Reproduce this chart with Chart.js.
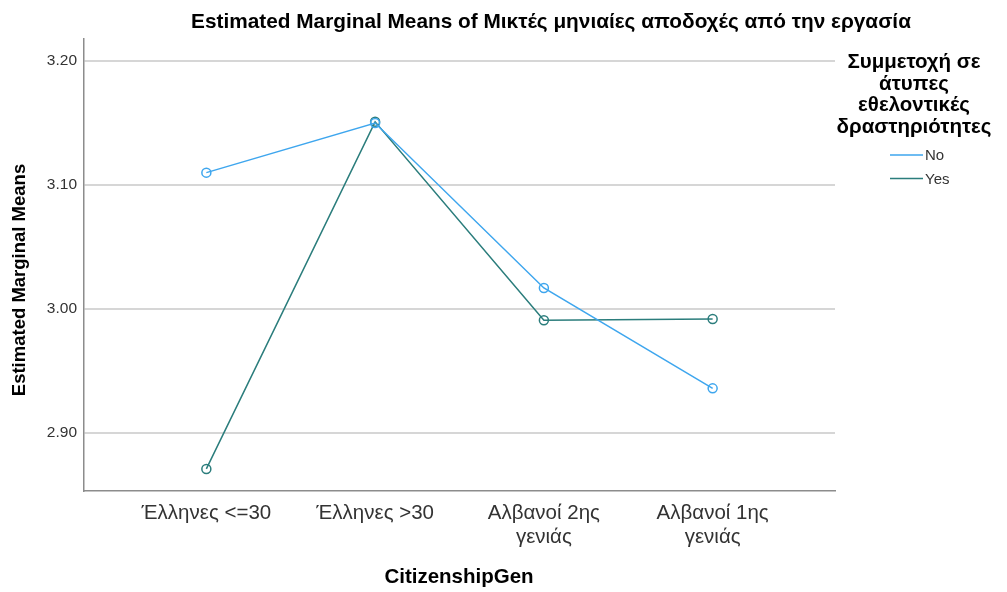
<!DOCTYPE html>
<html>
<head>
<meta charset="utf-8">
<script src="https://cdn.jsdelivr.net/npm/chart.js@4/dist/chart.umd.min.js"></script>
<style>
  html, body { margin: 0; padding: 0; background: #fff; }
  #wrap { width: 1007px; height: 592px; position: relative; }
</style>
</head>
<body>
<div id="wrap"><canvas id="emmChart"></canvas></div>
<script>
// categories (x axis)
const categories = [
  ['Έλληνες <=30'],
  ['Έλληνες >30'],
  ['Αλβανοί 2ης', 'γενιάς'],
  ['Αλβανοί 1ης', 'γενιάς']
];
// estimated marginal means per group
const valuesNo = [3.110, 3.150, 3.017, 2.936];
const valuesYes = [2.871, 3.151, 2.991, 2.992];
const yTicks = [2.90, 3.00, 3.10, 3.20];

const chartTitle = 'Estimated Marginal Means of Μικτές μηνιαίες αποδοχές από την εργασία';
const yTitle = 'Estimated Marginal Means';
const xTitle = 'CitizenshipGen';
const legendTitle = ['Συμμετοχή σε', 'άτυπες', 'εθελοντικές', 'δραστηριότητες'];
const seriesNames = ['No', 'Yes'];

const colNo = '#3ea6ee';
const colYes = '#2b7d7c';
const fontFam = '"Liberation Sans", Arial, sans-serif';

function toPoints(arr) {
  return arr.map((v, i) => ({ x: i, y: v }));
}

// titles + legend drawn by hand
const extras = {
  id: 'extras',
  afterDraw(chart) {
    const c = chart.ctx;
    c.save();
    c.fillStyle = '#000';
    c.textAlign = 'center';
    c.textBaseline = 'middle';

    c.font = 'bold 20.8px ' + fontFam;
    c.fillText(chartTitle, 551, 22);

    c.font = 'bold 20.5px ' + fontFam;
    c.fillText(xTitle, 459, 577);

    c.save();
    c.translate(20, 280);
    c.rotate(-Math.PI / 2);
    c.font = 'bold 18.5px ' + fontFam;
    c.fillText(yTitle, 0, 0);
    c.restore();

    // legend title
    c.font = 'bold 20.5px ' + fontFam;
    c.textBaseline = 'alphabetic';
    legendTitle.forEach((line, i) => {
      c.fillText(line, 914, 68 + i * 21.7);
    });

    // legend items
    c.font = '15px ' + fontFam;
    c.textAlign = 'left';
    c.textBaseline = 'middle';
    chart.data.datasets.forEach((ds, i) => {
      const y = 155 + i * 23.5;
      c.strokeStyle = ds.borderColor;
      c.lineWidth = 1.5;
      c.beginPath();
      c.moveTo(890, y);
      c.lineTo(923, y);
      c.stroke();
      c.fillStyle = '#333';
      c.fillText(ds.label, 925, y + 1);
    });
    c.restore();
  }
};

new Chart(document.getElementById('emmChart'), {
  type: 'line',
  data: {
    datasets: [
      {
        label: seriesNames[0],
        data: toPoints(valuesNo),
        borderColor: colNo,
        backgroundColor: '#fff',
        pointBorderColor: colNo,
        pointBackgroundColor: 'rgba(255,255,255,0)',
        pointRadius: 4.5,
        pointBorderWidth: 1.5,
        borderWidth: 1.5,
        tension: 0
      },
      {
        label: seriesNames[1],
        data: toPoints(valuesYes),
        borderColor: colYes,
        backgroundColor: '#fff',
        pointBorderColor: colYes,
        pointBackgroundColor: 'rgba(255,255,255,0)',
        pointRadius: 4.5,
        pointBorderWidth: 1.5,
        borderWidth: 1.5,
        tension: 0
      }
    ]
  },
  options: {
    responsive: true,
    maintainAspectRatio: false,
    animation: false,
    layout: { padding: { top: 39, right: 172, left: 0, bottom: 0 } },
    plugins: {
      legend: { display: false },
      title: { display: false },
      tooltip: { enabled: false }
    },
    scales: {
      x: {
        type: 'linear',
        min: -0.725,
        max: 3.725,
        afterBuildTicks: s => { s.ticks = categories.map((_, i) => ({ value: i })); },
        afterFit: s => { s.height = 101; },
        grid: { display: false, drawTicks: false },
        border: { display: true, color: '#8c8c8c', width: 1.5 },
        ticks: {
          padding: 11,
          color: '#333',
          font: { family: fontFam, size: 20.5, lineHeight: 1.14 },
          callback: v => categories[v]
        }
      },
      y: {
        min: 2.8532,
        max: 3.2178,
        afterBuildTicks: s => { s.ticks = yTicks.map(v => ({ value: v })); },
        afterFit: s => { s.width = 84; },
        grid: { color: '#d6d6d6', lineWidth: 2, drawTicks: false },
        border: { display: true, color: '#8c8c8c', width: 1.5 },
        ticks: {
          padding: 7,
          color: '#333',
          font: { family: fontFam, size: 15.5 },
          callback: v => v.toFixed(2)
        }
      }
    }
  },
  plugins: [extras]
});
</script>
</body>
</html>
